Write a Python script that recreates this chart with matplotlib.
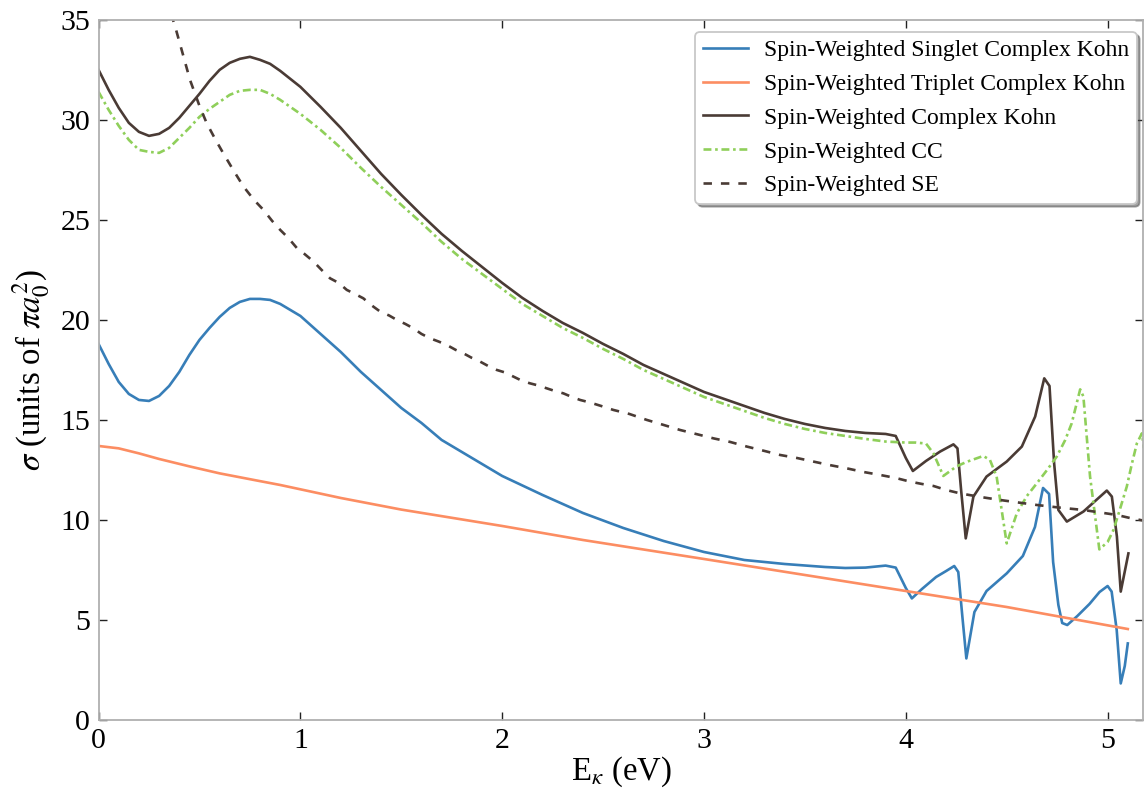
import matplotlib
matplotlib.use("Agg")
import matplotlib.pyplot as plt

plt.rcParams["font.family"] = ["Liberation Serif", "DejaVu Serif"]
plt.rcParams["mathtext.fontset"] = "stix"

# Singlet complex Kohn cross section
x_singlet = [0, 0.05, 0.1, 0.15, 0.2, 0.25, 0.3, 0.35, 0.4, 0.45, 0.5, 0.55, 0.6, 0.65,
             0.7, 0.75, 0.8, 0.85, 0.9, 0.95, 1.0, 1.1, 1.2, 1.3, 1.4, 1.5, 1.6, 1.7, 1.8,
             1.9, 2.0, 2.2, 2.4, 2.6, 2.8, 3.0, 3.2, 3.4, 3.6, 3.7, 3.8, 3.9, 3.95, 4.0,
             4.03, 4.08, 4.15, 4.2, 4.24, 4.26, 4.28, 4.30, 4.34, 4.4, 4.5, 4.58, 4.64,
             4.68, 4.71, 4.73, 4.756, 4.775, 4.80, 4.85, 4.91, 4.96, 5.0, 5.02, 5.045,
             5.065, 5.085, 5.10]
y_singlet = [18.8, 17.8, 16.9, 16.3, 16.0, 15.95, 16.2, 16.7, 17.4, 18.25, 19.0, 19.6,
             20.15, 20.6, 20.9, 21.05, 21.05, 21.0, 20.8, 20.5, 20.2, 19.3, 18.4, 17.4,
             16.5, 15.6, 14.85, 14.0, 13.4, 12.8, 12.2, 11.25, 10.35, 9.6, 8.95, 8.4,
             8.0, 7.8, 7.65, 7.6, 7.62, 7.72, 7.62, 6.6, 6.08, 6.55, 7.15, 7.45, 7.7,
             7.4, 5.2, 3.08, 5.4, 6.45, 7.33, 8.2, 9.65, 11.6, 11.3, 7.9, 5.75, 4.85,
             4.75, 5.2, 5.8, 6.4, 6.7, 6.42, 4.5, 1.83, 2.7, 3.83]

# Triplet complex Kohn cross section
x_triplet = [0, 0.1, 0.2, 0.3, 0.45, 0.6, 0.77, 0.9, 1.2, 1.5, 2.0, 2.4, 3.0, 3.5, 4.0,
             4.5, 5.1]
y_triplet = [13.7, 13.58, 13.33, 13.05, 12.68, 12.33, 12.0, 11.75, 11.1, 10.52, 9.7,
             9.0, 8.05, 7.25, 6.45, 5.65, 4.55]

# Total (spin-weighted) complex Kohn cross section
x_kohn = [0, 0.05, 0.1, 0.15, 0.2, 0.25, 0.3, 0.35, 0.4, 0.45, 0.5, 0.55, 0.6, 0.65, 0.7,
          0.75, 0.8, 0.85, 0.9, 0.95, 1.0, 1.1, 1.2, 1.3, 1.4, 1.5, 1.6, 1.7, 1.8, 1.9,
          2.0, 2.1, 2.2, 2.3, 2.4, 2.5, 2.6, 2.7, 2.8, 2.9, 3.0, 3.1, 3.2, 3.3, 3.4, 3.5,
          3.6, 3.7, 3.8, 3.9, 3.95, 4.0, 4.035, 4.1, 4.17, 4.236, 4.256, 4.274, 4.297,
          4.335, 4.40, 4.5, 4.575, 4.641, 4.686, 4.712, 4.735, 4.756, 4.798, 4.88, 4.996,
          5.021, 5.046, 5.065, 5.103]
y_kohn = [32.5, 31.5, 30.6, 29.85, 29.4, 29.2, 29.3, 29.6, 30.1, 30.7, 31.3, 31.95, 32.5,
          32.85, 33.05, 33.15, 33.0, 32.8, 32.45, 32.05, 31.65, 30.65, 29.6, 28.45, 27.3,
          26.25, 25.25, 24.3, 23.45, 22.65, 21.85, 21.1, 20.45, 19.85, 19.35, 18.8, 18.3,
          17.75, 17.3, 16.85, 16.4, 16.05, 15.7, 15.35, 15.05, 14.8, 14.6, 14.45, 14.35,
          14.3, 14.2, 13.1, 12.45, 12.95, 13.42, 13.78, 13.58, 11.5, 9.08, 11.17, 12.17,
          12.92, 13.67, 15.17, 17.08, 16.7, 12.83, 10.5, 9.92, 10.42, 11.47, 11.17, 9.17,
          6.42, 8.33]

# Close-coupling cross section
x_cc = [0, 0.05, 0.1, 0.15, 0.2, 0.25, 0.3, 0.35, 0.4, 0.45, 0.5, 0.55, 0.6, 0.65, 0.7,
        0.75, 0.8, 0.85, 0.9, 0.95, 1.0, 1.1, 1.2, 1.3, 1.4, 1.5, 1.6, 1.7, 1.8, 1.9, 2.0,
        2.1, 2.2, 2.3, 2.4, 2.5, 2.6, 2.7, 2.8, 2.9, 3.0, 3.1, 3.2, 3.3, 3.4, 3.5, 3.6,
        3.7, 3.8, 3.9, 4.0, 4.05, 4.1, 4.137, 4.186, 4.25, 4.3, 4.384, 4.417, 4.45, 4.5,
        4.55, 4.6, 4.649, 4.7, 4.748, 4.79, 4.822, 4.864, 4.88, 4.913, 4.959, 5.0, 5.029,
        5.06, 5.095, 5.12, 5.145, 5.17, 5.18, 5.2]
y_cc = [31.4, 30.5, 29.7, 29.0, 28.5, 28.4, 28.35, 28.6, 29.1, 29.6, 30.15, 30.55, 30.9,
        31.25, 31.45, 31.5, 31.5, 31.3, 31.0, 30.65, 30.3, 29.5, 28.6, 27.6, 26.65,
        25.75, 24.85, 23.9, 23.05, 22.3, 21.55, 20.8, 20.2, 19.6, 19.1, 18.55, 18.05,
        17.5, 17.05, 16.6, 16.15, 15.8, 15.45, 15.1, 14.8, 14.55, 14.35, 14.2, 14.05,
        13.92, 13.87, 13.87, 13.82, 13.33, 12.2, 12.67, 12.9, 13.2, 13.0, 12.17, 8.83,
        10.33, 11.2, 11.83, 12.5, 13.17, 14.0, 14.83, 16.53, 16.17, 12.17, 8.53, 8.9,
        9.5, 10.5, 11.67, 12.8, 13.83, 14.33, 13.6, 16.5]

# Static-exchange cross section
x_se = [0.36, 0.384, 0.42, 0.453, 0.5, 0.536, 0.58, 0.618, 0.67, 0.718, 0.77, 0.817,
        0.86, 0.9, 0.94, 0.982, 1.02, 1.065, 1.105, 1.147, 1.19, 1.23, 1.27, 1.312, 1.35,
        1.395, 1.44, 1.478, 1.52, 1.56, 1.6, 1.643, 1.685, 1.725, 1.77, 1.808, 1.85,
        1.89, 1.93, 1.973, 2.015, 2.055, 2.1, 2.138, 2.18, 2.221, 2.26, 2.303, 2.345,
        2.386, 2.436, 2.49, 2.551, 2.63, 2.717, 2.8, 2.881, 2.96, 3.047, 3.13, 3.212,
        3.3, 3.377, 3.46, 3.542, 3.62, 3.708, 3.79, 3.873, 3.95, 4.02, 4.08, 4.137, 4.2,
        4.269, 4.37, 4.467, 4.56, 4.649, 4.76, 4.88, 4.96, 5.046, 5.11, 5.177, 5.2]
y_se = [35.3, 34.5, 33.2, 32.0, 30.7, 29.83, 29.0, 28.33, 27.45, 26.67, 26.0, 25.5,
        24.95, 24.5, 24.1, 23.6, 23.3, 22.92, 22.5, 22.08, 21.85, 21.5, 21.3, 21.08,
        20.75, 20.42, 20.22, 20.0, 19.8, 19.58, 19.3, 19.08, 18.92, 18.75, 18.5, 18.33,
        18.1, 17.92, 17.7, 17.5, 17.37, 17.17, 16.95, 16.83, 16.72, 16.58, 16.45, 16.33,
        16.15, 16.0, 15.87, 15.7, 15.5, 15.3, 15.0, 14.75, 14.5, 14.3, 14.08, 13.9,
        13.67, 13.45, 13.25, 13.1, 12.92, 12.75, 12.58, 12.4, 12.25, 12.1, 11.92, 11.8,
        11.7, 11.5, 11.33, 11.15, 11.0, 10.87, 10.75, 10.62, 10.5, 10.38, 10.25, 10.1,
        9.97, 9.95]

labels = ["Spin-Weighted Singlet Complex Kohn", "Spin-Weighted Triplet Complex Kohn",
          "Spin-Weighted Complex Kohn", "Spin-Weighted CC", "Spin-Weighted SE"]

c_blue = "#377eb8"
c_orange = "#fc8d62"
c_brown = "#4a3b35"
c_green = "#8fcf5a"

fig = plt.figure(figsize=(11.46, 7.93), dpi=100)
ax = fig.add_axes([0.086, 0.092, 0.9115, 0.883])

lw = 1.9
ax.plot(x_singlet, y_singlet, color=c_blue, lw=lw, label=labels[0])
ax.plot(x_triplet, y_triplet, color=c_orange, lw=lw, label=labels[1])
ax.plot(x_kohn, y_kohn, color=c_brown, lw=lw, label=labels[2])
ax.plot(x_cc, y_cc, color=c_green, lw=lw, linestyle=(0, (3.0, 1.4, 1.0, 1.4)),
        label=labels[3])
ax.plot(x_se, y_se, color=c_brown, lw=lw, linestyle=(0, (3.2, 3.4)), label=labels[4])

ax.set_xlim(0, 5.176)
ax.set_ylim(0, 35)
ax.set_xticks([0, 1, 2, 3, 4, 5])
ax.set_yticks([0, 5, 10, 15, 20, 25, 30, 35])

for s in ax.spines.values():
    s.set_color("#b0b0b0")
    s.set_linewidth(1.3)
ax.tick_params(direction="in", length=6, width=1.0, color="#222222",
               top=True, right=True, labelsize=21.5, pad=6)

ax.set_xlabel(r"E$_\kappa$ (eV)", fontsize=23.5, labelpad=0)
ax.set_ylabel(r"$\sigma$ (units of $\pi a_0^2$)", fontsize=23.5, labelpad=6)

leg = ax.legend(loc="upper right", bbox_to_anchor=(0.992, 0.9596),
                bbox_transform=fig.transFigure, borderaxespad=0, fontsize=17,
                frameon=True, fancybox=True, shadow=True, handlelength=1.9,
                labelspacing=0.52, borderpad=0.32, handletextpad=0.7)
leg.get_frame().set_edgecolor("#c8c8c8")
leg.get_frame().set_linewidth(1.3)

fig.savefig("out.png", dpi=100)
